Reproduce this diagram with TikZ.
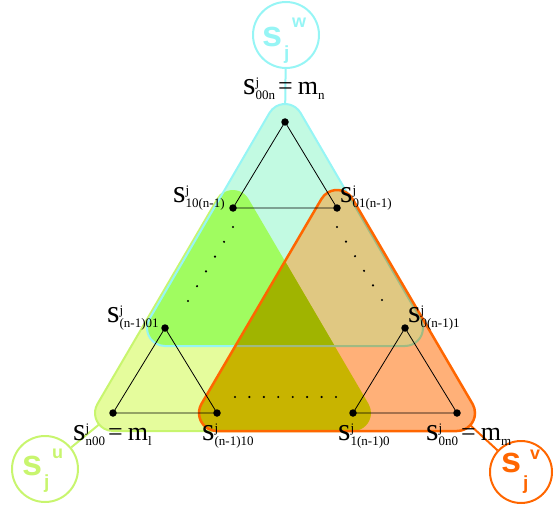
\documentclass[tikz,border=0pt]{standalone}
\usepackage{fontspec}
\setmainfont{Liberation Serif}
\newfontfamily\circfont{Liberation Sans}
\usetikzlibrary{calc}

\definecolor{cyanfill}{RGB}{194,250,226}
\definecolor{cyanline}{RGB}{150,245,245}
\definecolor{cyanmute}{RGB}{160,186,130}
\definecolor{limefill}{RGB}{229,252,156}
\definecolor{limeline}{RGB}{200,245,110}
\definecolor{orafill}{RGB}{255,176,120}
\definecolor{oraline}{RGB}{255,102,0}
\definecolor{greenfill}{RGB}{160,252,96}
\definecolor{tanfill}{RGB}{224,200,130}
\definecolor{dyelfill}{RGB}{200,180,0}
\definecolor{olivefill}{RGB}{160,180,0}

\newcommand{\crad}{18pt}
% rounded triangle around three corners (top, left, right)
\newcommand{\rtri}[3]{($(#1)+(150:\crad)$) -- ($(#2)+(150:\crad)$)
  arc[start angle=150,end angle=270,radius=\crad] -- ($(#3)+(270:\crad)$)
  arc[start angle=270,end angle=390,radius=\crad] -- ($(#1)+(30:\crad)$)
  arc[start angle=30,end angle=150,radius=\crad] -- cycle}
% s^j_{..}
\newcommand{\sj}[1]{{\fontsize{32}{32}\selectfont s}\rlap{\raisebox{8pt}{\fontsize{13}{13}\selectfont j}}\raisebox{-5pt}{\fontsize{13}{13}\selectfont #1}}
\newcommand{\eqm}[1]{\hspace{3pt}{\fontsize{26}{26}\selectfont =\hspace{5pt}m}\raisebox{-5pt}{\fontsize{13}{13}\selectfont #1}}
% big s in the circles
\newcommand{\cs}[4]{{\fontsize{36}{36}\selectfont s}\hspace{2pt}\rlap{\raisebox{-#3}{\fontsize{19}{19}\selectfont j}}\hspace{#4}\raisebox{#2}{\fontsize{18}{18}\selectfont #1}}

\begin{document}
\begin{tikzpicture}[x=1pt, y=1pt,
    dot/.style={circle, fill=black, inner sep=0pt, minimum size=7.5pt},
    lab/.style={inner sep=0pt, anchor=base west},
    clab/.style={inner sep=0pt, anchor=base west, font=\circfont\bfseries},
    circ/.style={circle, draw, line width=2pt, inner sep=0pt},
    edge/.style={draw, black, line width=0.8pt}]
    \useasboundingbox (0,0) rectangle (554,507);

    % corners
    \coordinate (t) at (285,385);
    \coordinate (t1) at (233,299);
    \coordinate (t2) at (337,299);
    \coordinate (l) at (165,179);
    \coordinate (l1) at (113,94);
    \coordinate (l2) at (217,94);
    \coordinate (r) at (405,179);
    \coordinate (r1) at (353,94);
    \coordinate (r2) at (457,94);

    % circles
    \node[circ, draw=cyanline, minimum size=66pt] (wc) at (286,472) {};
    \node[circ, draw=limeline, minimum size=66pt] (uc) at (45,38) {};
    \node[circ, draw=oraline, minimum size=62pt] (vc) at (521,35) {};
    \draw[cyanline, line width=2pt] (wc) -- (t);
    \draw[limeline, line width=2pt] (uc) -- (l1);
    \draw[oraline, line width=2pt] (vc) -- (r2);
    \node[clab, text=cyanline] (wl) at (262,460) {\cs{w}{19pt}{12.5pt}{8pt}};
    \node[clab, text=limeline] (ul) at (22,32) {\cs{u}{17pt}{13.5pt}{8pt}};
    \node[clab, text=oraline] (vl) at (501,35) {\cs{v}{13pt}{17pt}{7pt}};

    % regions
    \fill[limefill] \rtri{t1}{l1}{r1};
    \draw[limeline, line width=2pt] \rtri{t1}{l1}{r1};
    \fill[cyanfill] \rtri{t}{l}{r};
    \begin{scope}
        \clip \rtri{t1}{l1}{r1};
        \fill[greenfill] \rtri{t}{l}{r};
    \end{scope}
    \draw[cyanline, line width=2pt] \rtri{t}{l}{r};
    \fill[orafill] \rtri{t2}{l2}{r2};
    \begin{scope}
        \clip \rtri{t}{l}{r};
        \fill[tanfill] \rtri{t2}{l2}{r2};
    \end{scope}
    \begin{scope}
        \clip \rtri{t1}{l1}{r1};
        \fill[dyelfill] \rtri{t2}{l2}{r2};
        \clip \rtri{t}{l}{r};
        \fill[olivefill] \rtri{t2}{l2}{r2};
    \end{scope}
    \begin{scope}
        \clip \rtri{t2}{l2}{r2};
        \draw[cyanmute, line width=2pt] \rtri{t}{l}{r};
    \end{scope}
    \draw[oraline, line width=2.5pt] \rtri{t2}{l2}{r2};

    % small triangles
    \node[dot] (T) at (t) {};
    \node[dot] (T1) at (t1) {};
    \node[dot] (T2) at (t2) {};
    \node[dot] (L) at (l) {};
    \node[dot] (L1) at (l1) {};
    \node[dot] (L2) at (l2) {};
    \node[dot] (R) at (r) {};
    \node[dot] (R1) at (r1) {};
    \node[dot] (R2) at (r2) {};
    \draw[edge] (T.center) -- (T1.center) -- (T2.center) -- cycle;
    \draw[edge] (L.center) -- (L1.center) -- (L2.center) -- cycle;
    \draw[edge] (R.center) -- (R1.center) -- (R2.center) -- cycle;

    % dotted runs
    \coordinate (la) at (233,280);
    \coordinate (lb) at (188,206);
    \coordinate (ra) at (337,280);
    \coordinate (rb) at (382,207);
    \coordinate (ba) at (235,110);
    \coordinate (bb) at (336,110);
    \foreach \k in {0,...,5} {
        \fill ($(la)!\k/5!(lb)$) circle (1.2pt);
        \fill ($(ra)!\k/5!(rb)$) circle (1.2pt);
    }
    \foreach \k in {0,...,7}
        \fill ($(ba)!\k/7!(bb)$) circle (1.2pt);

    % labels
    \node[lab] (s00n) at (243,412) {\sj{00n}\eqm{n}};
    \node[lab] (s10) at (173,305) {\sj{10(n-1)}};
    \node[lab] (s01) at (340,305) {\sj{01(n-1)}};
    \node[lab] (sn01) at (107,185) {\sj{(n-1)01}};
    \node[lab] (s0n1) at (408,185) {\sj{0(n-1)1}};
    \node[lab] (sn00) at (73,67) {\sj{n00}\eqm{l}};
    \node[lab] (sn10) at (202,67) {\sj{(n-1)10}};
    \node[lab] (s1n0) at (338,67) {\sj{1(n-1)0}};
    \node[lab] (s0n0) at (426,67) {\sj{0n0}\eqm{m}};
\end{tikzpicture}
\end{document}
